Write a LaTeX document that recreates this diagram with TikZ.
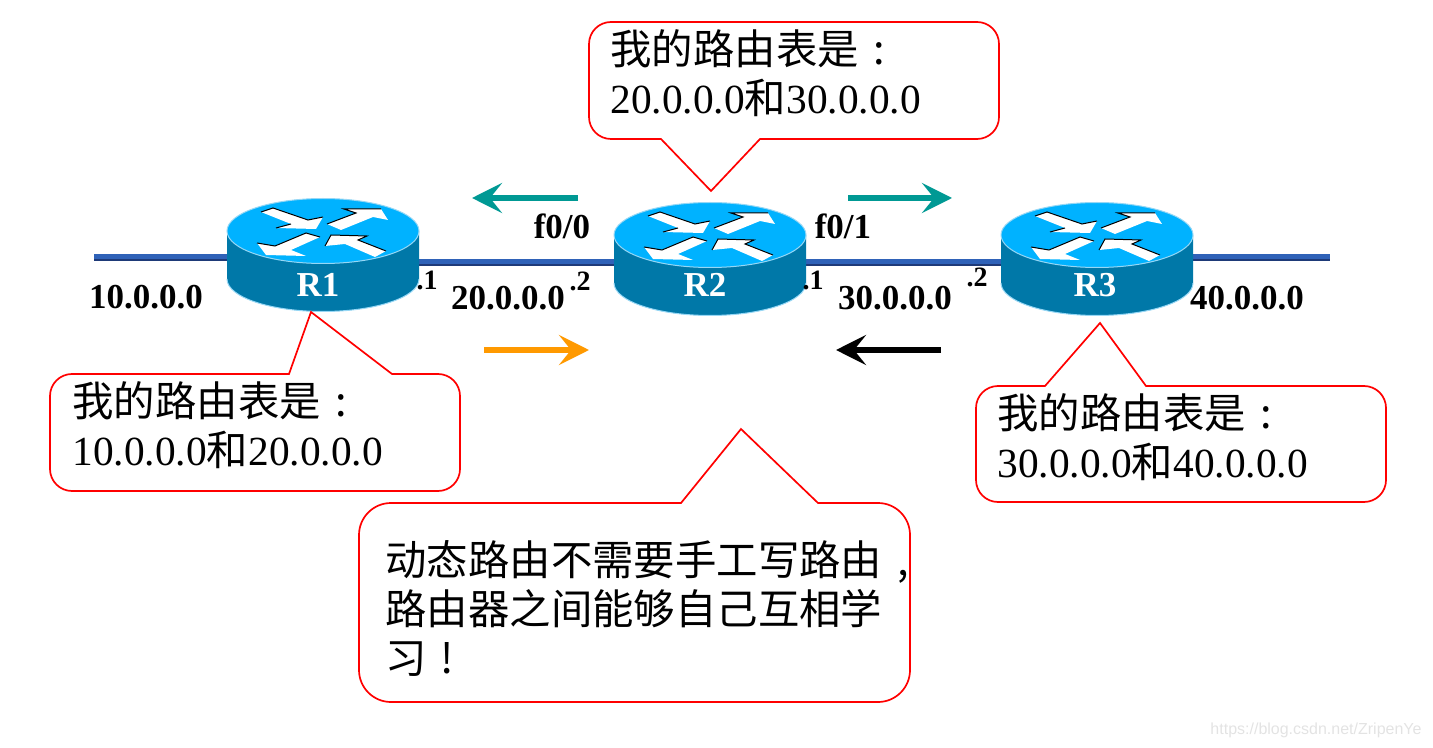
\documentclass[tikz,border=0pt]{standalone}
\usepackage{fontspec}
\setmainfont{Liberation Serif}
\newfontfamily\cjk{Noto Sans CJK SC}
\newfontfamily\wmfont{Liberation Sans}
\usetikzlibrary{arrows.meta}
\definecolor{clrTop}{RGB}{0,178,255}
\definecolor{clrBody}{RGB}{0,120,168}
\definecolor{clrRim}{RGB}{150,215,245}
\definecolor{clrWire}{RGB}{47,98,184}
\definecolor{clrWireD}{RGB}{30,58,120}
\definecolor{clrTeal}{RGB}{0,153,148}
\definecolor{clrOrg}{RGB}{255,153,0}
\tikzset{
  bubble/.style={draw=red,fill=white,line width=0.85pt},
  bubbletext/.style={font=\fontsize{20.7}{24.6}\selectfont,anchor=north west,align=left,inner sep=0pt},
  addr/.style={font=\fontsize{17.5}{20}\selectfont\bfseries,inner sep=0pt},
  ipend/.style={font=\fontsize{14}{16}\selectfont\bfseries,inner sep=0pt},
  rname/.style={font=\fontsize{17.5}{20}\selectfont\bfseries,text=white,inner sep=0pt},
  wire/.style={clrWire,line width=2.5pt},
  wireedge/.style={clrWireD,line width=1pt,transform canvas={yshift=-1.75pt}},
  flow/.style={-{Stealth[length=15pt,width=15pt,inset=6pt]},line width=3pt},
  router/.pic={
    \fill[clrBody] (-96,0) -- (-96,48) arc[start angle=180,end angle=0,x radius=96,y radius=32.5] -- (96,0) -- cycle;
    \draw[clrRim,line width=0.5pt] (-96,48) arc[start angle=180,end angle=0,x radius=96,y radius=32.5];
    \fill[clrTop] (0,0) ellipse[x radius=96,y radius=32.5];
    \draw[clrRim,line width=0.5pt] (0,0) ellipse[x radius=96,y radius=32.5];
    \fill[white] (-62,-19) -- (-50,-23) -- (-15,-11) -- (0,-14) -- (-7,-2) -- (-47,-3) -- (-32,-7) -- cycle;
    \fill[white] (4,-7) -- (33,-18) -- (21,-22) -- (58,-22) -- (65,-11) -- (50,-14) -- (18,-1) -- cycle;
    \fill[white] (-3,6) -- (-17,2) -- (-48,15) -- (-66,12) -- (-57,24) -- (-17,25) -- (-32,19) -- cycle;
    \fill[white] (2,15) -- (8,4) -- (44,5) -- (35,9) -- (63,20) -- (52,26) -- (22,13) -- cycle;
    \draw[black,line width=0.5pt] (-62,-19) -- (-50,-23) -- (-15,-11) -- (0,-14);
    \draw[black,line width=0.5pt] (-47,-3) -- (-32,-7);
    \draw[black,line width=0.5pt] (4,-7) -- (33,-18) -- (21,-22) -- (58,-22);
    \draw[black,line width=0.5pt] (-3,6) -- (-17,2) -- (-48,15) -- (-66,12);
    \draw[black,line width=0.5pt] (2,15) -- (8,4) -- (44,5) -- (35,9) -- (63,20);
  }
}
\newcommand{\zh}[1]{{\cjk #1}}
\newcommand{\fullp}[1]{\makebox[1em][c]{\cjk #1}}
\begin{document}
\begin{tikzpicture}[x=0.5pt,y=-0.5pt]
  \useasboundingbox (0,0) rectangle (1433,748);
  \coordinate (r1) at (323,231);
  \coordinate (r2) at (710,235);
  \coordinate (r3) at (1097,235);
  \coordinate (end1) at (94,257);
  \coordinate (end3) at (1330,257);
  \coordinate (a1) at (323,257);
  \coordinate (a3) at (1097,257);
  \coordinate (b1) at (323,261.5);
  \coordinate (b2) at (710,261.5);
  \coordinate (b3) at (1097,261.5);
  \foreach \from/\to in {end1/a1,b1/b2,b2/b3,a3/end3}{
    \draw[wireedge] (\from) -- (\to);
    \draw[wire] (\from) -- (\to);
  }
  \pic at (r1) {router};
  \pic at (r2) {router};
  \pic at (r3) {router};
  \node[rname] (nameR1) at (318,285) {R1};
  \node[rname] (nameR2) at (705,285) {R2};
  \node[rname] (nameR3) at (1095,285) {R3};
  \node[addr] (net1) at (146,297) {10.0.0.0};
  \node[addr] (net2) at (508,298) {20.0.0.0};
  \node[addr] (net3) at (895,298) {30.0.0.0};
  \node[addr] (net4) at (1247,298) {40.0.0.0};
  \node[addr] (if1) at (562,226) {f0/0};
  \node[addr] (if2) at (843,226) {f0/1};
  \node[ipend] (ip1) at (427,280) {.1};
  \node[ipend] (ip2) at (580,281) {.2};
  \node[ipend] (ip3) at (813,280) {.1};
  \node[ipend] (ip4) at (977,277) {.2};
  \coordinate (t1a) at (578,198);
  \coordinate (t1b) at (472,198);
  \coordinate (t2a) at (848,198);
  \coordinate (t2b) at (952,198);
  \coordinate (o1a) at (484,350);
  \coordinate (o1b) at (589,350);
  \coordinate (k1a) at (941,350);
  \coordinate (k1b) at (836,350);
  \draw[flow,clrTeal] (t1a) -- (t1b);
  \draw[flow,clrTeal] (t2a) -- (t2b);
  \draw[flow,clrOrg] (o1a) -- (o1b);
  \draw[flow,black] (k1a) -- (k1b);
  \draw[bubble] (711,191) -- (661,139) [rounded corners=11pt] -- (589,139) -- (589,22) -- (999,22) -- (999,139) [sharp corners] -- (760,139) -- cycle;
  \node[bubbletext] (tbl2) at (610,29) {\zh{我的路由表是}\fullp{:}\\20.0.0.0\zh{和}30.0.0.0};
  \draw[bubble] (311,312) -- (289,374) [rounded corners=11pt] -- (50,374) -- (50,491) -- (460,491) -- (460,374) [sharp corners] -- (392,374) -- cycle;
  \node[bubbletext] (tbl1) at (72,381) {\zh{我的路由表是}\fullp{:}\\10.0.0.0\zh{和}20.0.0.0};
  \draw[bubble] (1100,323) -- (1045,386) [rounded corners=11pt] -- (976,386) -- (976,502) -- (1386,502) -- (1386,386) [sharp corners] -- (1146,386) -- cycle;
  \node[bubbletext] (tbl3) at (997,393) {\zh{我的路由表是}\fullp{:}\\30.0.0.0\zh{和}40.0.0.0};
  \draw[bubble] (741,429) -- (681,503) [rounded corners=16pt] -- (359,503) -- (359,702) -- (910,702) -- (910,503) [sharp corners] -- (818,503) -- cycle;
  \node[bubbletext] (note) at (385,540) {\zh{动态路由不需要手工写路由}\fullp{,}\\\zh{路由器之间能够自己互相学}\\\zh{习}\fullp{!}};
  \node[font=\fontsize{8}{10}\selectfont\wmfont,text=gray!22,inner sep=0pt] (mark) at (1316,730) {https://blog.csdn.net/ZripenYe};
\end{tikzpicture}
\end{document}
